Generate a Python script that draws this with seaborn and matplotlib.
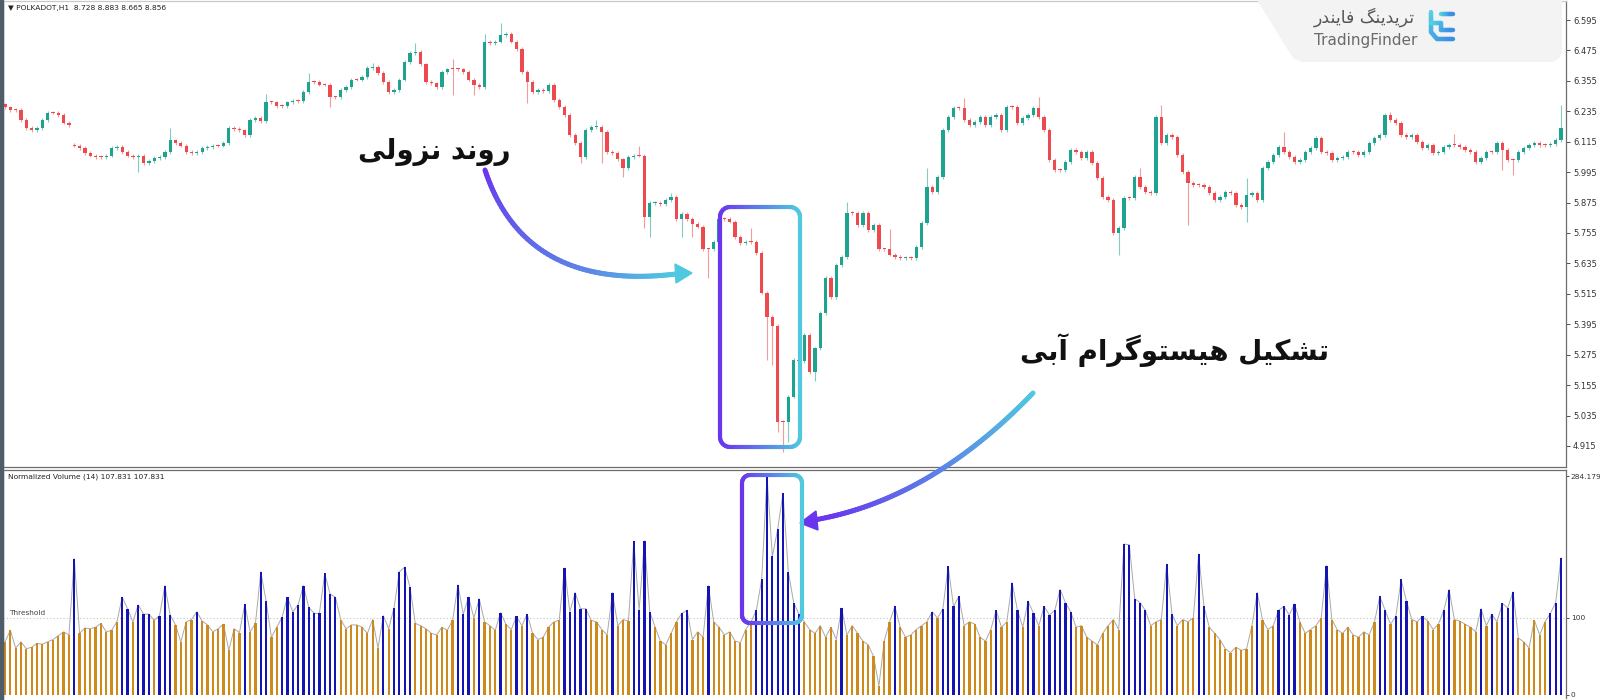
import numpy as np
import pandas as pd
import matplotlib
matplotlib.use("Agg")
import matplotlib.pyplot as plt
import seaborn as sns
from matplotlib.collections import LineCollection
from matplotlib.colors import LinearSegmentedColormap
from matplotlib.patches import Polygon

# ---------------------------------------------------------------- data
symbol_header = "\u25BC POLKADOT,H1  8.728 8.883 8.665 8.856"
indicator_header = "Normalized Volume (14) 107.831 107.831"

# H1 closes, one per candle
closes = [
    6.25, 6.24, 6.24, 6.20, 6.17, 6.16, 6.17, 6.20, 6.23, 6.23, 6.22, 6.19, 6.18,
    6.10, 6.09, 6.07, 6.06, 6.055, 6.055, 6.06, 6.09, 6.095, 6.075, 6.06, 6.055, 6.06,
    6.03, 6.04, 6.05, 6.055, 6.075,
    6.12, 6.11, 6.10, 6.075, 6.07, 6.075, 6.09, 6.095, 6.10, 6.10, 6.11,
    6.17, 6.165, 6.16, 6.14, 6.20, 6.21, 6.195,
    6.27, 6.27, 6.255, 6.255, 6.27, 6.275, 6.275,
    6.31, 6.35, 6.35, 6.34, 6.34, 6.29, 6.29, 6.32, 6.33, 6.36, 6.36, 6.37,
    6.405, 6.41, 6.385, 6.35, 6.31, 6.32, 6.36, 6.43, 6.465, 6.47, 6.42, 6.35, 6.345, 6.33,
    6.39, 6.40, 6.40, 6.40, 6.39, 6.36, 6.34, 6.33,
    6.51, 6.505, 6.51, 6.535, 6.54, 6.51, 6.48, 6.39,
    6.351, 6.311, 6.319, 6.315, 6.34, 6.28, 6.252, 6.22, 6.142, 6.11, 6.055, 6.161,
    6.173, 6.175, 6.153, 6.075, 6.071, 6.045, 6.011, 6.055, 6.06, 6.06,
    5.818, 5.873, 5.875, 5.87, 5.885, 5.897, 5.81, 5.83, 5.81, 5.79, 5.78, 5.69,
    5.69, 5.72, 5.81, 5.81, 5.80, 5.74, 5.715, 5.72, 5.72, 5.676,
    5.52, 5.424, 5.39, 5.01, 5.01, 5.11, 5.254, 5.25, 5.353, 5.207, 5.30, 5.44,
    5.578, 5.503, 5.629, 5.66,
    5.834, 5.834, 5.787, 5.834, 5.767, 5.787, 5.69, 5.69, 5.67, 5.66, 5.655,
    5.657, 5.657, 5.70, 5.795, 5.937, 5.917, 5.976, 6.161, 6.212, 6.248, 6.248,
    6.201, 6.181, 6.193, 6.213, 6.181, 6.213, 6.22, 6.161, 6.252, 6.252, 6.189,
    6.209, 6.22, 6.248, 6.213, 6.161, 6.043, 6.004, 6.004, 6.035, 6.082, 6.075,
    6.051, 6.075, 6.031, 5.972, 5.897, 5.885, 5.755, 5.775, 5.893, 5.893, 5.976,
    5.936, 5.917, 5.913, 6.213, 6.11, 6.142, 6.134, 6.063, 5.996, 5.952, 5.944,
    5.944, 5.936, 5.913, 5.885, 5.897, 5.917, 5.913, 5.865, 5.858, 5.905, 5.913,
    5.885, 6.011, 6.035, 6.063, 6.094, 6.075, 6.055, 6.035, 6.043, 6.075, 6.09,
    6.13, 6.075, 6.071, 6.043, 6.051, 6.055, 6.075, 6.075, 6.063, 6.075, 6.11,
    6.13, 6.142, 6.22, 6.201, 6.189, 6.142, 6.134, 6.142, 6.114, 6.09, 6.102,
    6.071, 6.075, 6.094, 6.102, 6.102, 6.094, 6.082, 6.075, 6.035, 6.051, 6.075,
    6.075, 6.11, 6.082, 6.043, 6.043, 6.075, 6.09, 6.102, 6.11, 6.102, 6.102,
    6.105, 6.122, 6.169,
]
gap_opens = {0: 6.262, 13: 6.104}
wick_highs = {31: 6.17, 49: 6.305, 57: 6.385, 69: 6.425, 77: 6.505, 84: 6.44,
              90: 6.54, 93: 6.585, 111: 6.20, 119: 6.10, 125: 5.913, 140: 5.775,
              158: 5.877, 166: 5.77, 173: 6.01, 180: 6.288, 194: 6.29, 213: 6.01,
              217: 6.26, 233: 5.972, 240: 6.154, 260: 6.232, 272: 6.146, 292: 6.26}
wick_lows = {25: 5.995, 61: 6.25, 84: 6.30, 88: 6.30, 98: 6.268, 108: 6.031,
             112: 6.031, 116: 5.975, 120: 5.775, 121: 5.74, 127: 5.74, 129: 5.74,
             132: 5.578, 143: 5.254, 144: 5.235, 145: 4.97, 146: 4.89, 147: 4.93,
             152: 5.17, 209: 5.668, 222: 5.787, 233: 5.80, 281: 6.004, 283: 5.984}

# Normalized Volume (14), one per candle
volumes = [
    69, 84, 61, 69, 60, 62, 67, 66, 69, 72, 77, 82, 78,
    177,
    80, 87, 86, 88, 93, 82, 84, 95,
    127, 112, 95, 117, 105, 105, 97, 103, 142, 104,
    91, 69, 95, 98, 108, 96, 91, 82, 86, 92, 58, 86, 81,
    118, 82, 93, 160, 122, 75, 88, 101, 127, 108, 117, 142, 114, 106, 106, 158,
    131, 127, 98, 86, 91, 91, 88, 80, 98, 61, 103, 86, 113, 160, 166, 140,
    93, 90, 86, 80, 78, 88, 84, 97,
    143, 105, 127, 100, 125, 95, 90, 84, 107, 92, 85, 102, 90, 105, 80, 72, 75, 88, 95, 97,
    165, 108, 133, 112, 112, 97, 95, 85, 78, 133, 90, 98, 96, 200, 110, 200, 108,
    88, 70, 65, 80, 95, 106, 110, 72, 82, 75, 142, 95, 88, 78, 82, 70, 68,
    85, 95, 110, 150, 284.179, 180, 215, 262, 160, 120, 105,
    95, 85, 80, 90, 75, 88, 72, 113, 78, 90, 80, 70, 65, 50, 12, 70, 95, 115, 88, 75, 78, 85, 90, 95,
    108, 100, 112, 167, 115, 128, 90, 95, 92, 75, 70, 85, 110, 88, 95, 146, 110, 88,
    122, 106, 90, 115, 104, 110, 137, 120, 108, 88, 90, 75, 70, 65, 80, 90, 98, 85,
    196, 195, 125, 120, 110, 90, 95, 98, 170, 105, 90, 98, 95, 100, 183, 115, 88, 80,
    72, 60, 55, 62, 58, 60,
    90, 133, 97, 85, 90, 110, 115, 104, 118, 95, 80, 85, 90, 100, 168, 98, 85, 80, 88,
    78, 75, 82, 78, 95, 128, 110, 92, 102, 150, 122, 98, 95, 102, 96, 85, 92, 110, 137,
    98, 96, 92, 88, 82, 112, 90, 105, 95,
    119, 113, 134, 74, 69, 61, 97, 78, 95, 106, 120, 178,
]
threshold = 100
price_ticks = [4.915, 5.035, 5.155, 5.275, 5.395, 5.515, 5.635, 5.755, 5.875,
               5.995, 6.115, 6.235, 6.355, 6.475, 6.595]
volume_ticks = [0, 100, 284.179]

label_trend = "روند نزولی"
label_hist = "تشکیل هیستوگرام آبی"
logo_fa = "تریدینگ فایندر"
logo_en = "TradingFinder"

BULL, BEAR = "#1fa38e", "#ec4a4f"
BLUE, ORANGE = "#1414b4", "#cf8a1d"
PURPLE, CYAN = "#6a35ee", "#50c8e0"

# -------------------------------------------------- persian shaping helper
FORMS = {  # isolated, final, initial, medial
    "ا": ("\uFE8D", "\uFE8E", None, None), "آ": ("\uFE81", "\uFE82", None, None),
    "ب": ("\uFE8F", "\uFE90", "\uFE91", "\uFE92"), "ت": ("\uFE95", "\uFE96", "\uFE97", "\uFE98"),
    "د": ("\uFEA9", "\uFEAA", None, None), "ر": ("\uFEAD", "\uFEAE", None, None),
    "ز": ("\uFEAF", "\uFEB0", None, None), "س": ("\uFEB1", "\uFEB2", "\uFEB3", "\uFEB4"),
    "ش": ("\uFEB5", "\uFEB6", "\uFEB7", "\uFEB8"), "ف": ("\uFED1", "\uFED2", "\uFED3", "\uFED4"),
    "ل": ("\uFEDD", "\uFEDE", "\uFEDF", "\uFEE0"), "م": ("\uFEE1", "\uFEE2", "\uFEE3", "\uFEE4"),
    "ن": ("\uFEE5", "\uFEE6", "\uFEE7", "\uFEE8"), "ه": ("\uFEE9", "\uFEEA", "\uFEEB", "\uFEEC"),
    "و": ("\uFEED", "\uFEEE", None, None), "ی": ("\uFBFC", "\uFBFD", "\uFBFE", "\uFBFF"),
    "ک": ("\uFB8E", "\uFB8F", "\uFB90", "\uFB91"), "گ": ("\uFB92", "\uFB93", "\uFB94", "\uFB95"),
}


def shape_fa(text):
    out = []
    for k, ch in enumerate(text):
        if ch not in FORMS:
            out.append(ch)
            continue
        prev = text[k - 1] if k > 0 else ""
        nxt = text[k + 1] if k < len(text) - 1 else ""
        join_prev = prev in FORMS and FORMS[prev][2] is not None
        join_next = nxt in FORMS and FORMS[ch][2] is not None
        iso, fin, ini, med = FORMS[ch]
        if join_prev and join_next:
            out.append(med)
        elif join_prev:
            out.append(fin)
        elif join_next:
            out.append(ini)
        else:
            out.append(iso)
    return "".join(reversed(out))


def gradient_line(ax, pts, c0, c1, lw, by_x=False):
    pts = np.asarray(pts, dtype=float)
    dense = [pts[0]]
    for a, b in zip(pts[:-1], pts[1:]):
        n = max(int(np.hypot(*(b - a)) / 2), 1)
        for s in np.linspace(0, 1, n + 1)[1:]:
            dense.append(a + (b - a) * s)
    dense = np.array(dense)
    segs = np.stack([dense[:-1], dense[1:]], axis=1)
    if by_x:
        mid = segs[:, :, 0].mean(axis=1)
        t = (mid - mid.min()) / (mid.max() - mid.min())
    else:
        t = np.linspace(0, 1, len(segs))
    cmap = LinearSegmentedColormap.from_list("grad", [c0, c1])
    ax.add_collection(LineCollection(segs, colors=cmap(t), linewidths=lw,
                                     capstyle="round", joinstyle="round"))


def rounded_rect(x0, y0, x1, y1, r):
    pts = []
    for cx, cy, a0 in [(x1 - r, y0 + r, -90), (x1 - r, y1 - r, 0),
                       (x0 + r, y1 - r, 90), (x0 + r, y0 + r, 180)]:
        ang = np.radians(np.linspace(a0, a0 + 90, 10))
        pts += list(zip(cx + r * np.cos(ang), cy + r * np.sin(ang)))
    pts.append(pts[0])
    return pts


def bezier(p0, p1, p2, n=60):
    t = np.linspace(0, 1, n)[:, None]
    p0, p1, p2 = map(np.array, (p0, p1, p2))
    return (1 - t) ** 2 * p0 + 2 * (1 - t) * t * p1 + t ** 2 * p2


# ---------------------------------------------------------------- figure
sns.set_style("white")
plt.rcParams["font.family"] = ["DejaVu Sans"]

fig = plt.figure(figsize=(16, 7), dpi=100)
ax_p = fig.add_axes([3 / 1600, (700 - 467) / 700, 1563 / 1600, 466 / 700])
ax_v = fig.add_axes([3 / 1600, 2 / 700, 1563 / 1600, 228 / 700])

n = len(closes)
idx = np.arange(n)
close = np.array(closes, dtype=float)
opn = np.r_[close[0], close[:-1]]
for k, v in gap_opens.items():
    opn[k] = v
top = np.maximum(opn, close)
bot = np.minimum(opn, close)
high = top + 0.007
low = bot - 0.007
for k, v in wick_highs.items():
    high[k] = v
for k, v in wick_lows.items():
    low[k] = v
up = close > opn
col = np.where(up, BULL, BEAR)

ax_p.vlines(idx, low, high, colors=col, linewidth=0.8, alpha=0.55, zorder=2)
ax_p.bar(idx, np.maximum(top - bot, 0.004), bottom=bot, width=0.62, color=col,
         linewidth=0, zorder=3)

ax_p.set_xlim(-0.375, n - 1 + 0.94)
ax_p.set_ylim(4.832, 6.670)
ax_p.yaxis.tick_right()
ax_p.set_yticks(price_ticks)
ax_p.set_yticklabels([f"{t:.3f}" for t in price_ticks])
ax_p.set_xticks([])
ax_p.tick_params(axis="y", labelsize=6, length=3, width=0.6, pad=2,
                 colors="#333333", right=True)
ax_p.text(0.003, 0.992, symbol_header, transform=ax_p.transAxes, fontsize=5.4,
          va="top", ha="left", color="#222222")

# volume pane
vol_df = pd.DataFrame({"bar": idx, "volume": volumes})
vol_df["side"] = np.where(vol_df["volume"] > threshold, "above", "below")
sns.lineplot(data=vol_df, x="bar", y="volume", color="#a9a9a9", linewidth=0.7,
             ax=ax_v, zorder=1)
sns.barplot(data=vol_df, x="bar", y="volume", hue="side",
            palette={"above": BLUE, "below": ORANGE}, native_scale=True,
            width=0.42, dodge=False, errorbar=None, saturation=1, linewidth=0,
            legend=False, ax=ax_v, zorder=2)
ax_v.axhline(threshold, color="#c4c4c4", linewidth=0.8, linestyle=(0, (1, 2)), zorder=0)
ax_v.text(0.8, threshold + 3, "Threshold", fontsize=5.3, color="#444444",
          ha="left", va="bottom")
ax_v.set_xlim(-0.375, n - 1 + 0.94)
ax_v.set_ylim(-3.9, 292.2)
ax_v.yaxis.tick_right()
ax_v.set_yticks(volume_ticks)
ax_v.set_yticklabels(["0", "100", "284.179"])
ax_v.set_xticks([])
ax_v.set_xlabel("")
ax_v.set_ylabel("")
ax_v.tick_params(axis="y", labelsize=5.3, length=2, width=0.6, pad=1.5,
                 colors="#333333", right=True)
ax_v.text(0.003, 0.985, indicator_header, transform=ax_v.transAxes, fontsize=5.4,
          va="top", ha="left", color="#222222")

for ax in (ax_p, ax_v):
    for s in ax.spines.values():
        s.set_color("#6d6d6d")
        s.set_linewidth(0.9)
ax_p.spines["top"].set_color("#c9c9c9")
ax_v.spines["bottom"].set_visible(False)

# ------------------------------------------------------------- overlay
ov = fig.add_axes([0, 0, 1, 1], zorder=10)
ov.set_xlim(0, 1600)
ov.set_ylim(700, 0)
ov.axis("off")
ov.patch.set_alpha(0)

ov.add_patch(Polygon([(0, 0), (3, 0), (3, 700), (0, 700)], color="#4f5c6a"))

# logo panel
logo = [(1257, 0), (1562, 0), (1562, 50)]
ang = np.radians(np.linspace(0, 90, 8))
logo += list(zip(1550 + 12 * np.cos(ang), 50 + 12 * np.sin(ang)))
logo += [(1302, 62), (1293, 58), (1288, 50)]
ov.add_patch(Polygon(logo, closed=True, facecolor="#f3f3f3", edgecolor="none"))
ov.text(1314, 17, shape_fa(logo_fa), fontsize=12.5, color="#555555", ha="left",
        va="center")
ov.text(1314, 41, logo_en, fontsize=11, color="#6a6a6a", ha="left",
        va="center")
gradient_line(ov, [(1431, 12), (1431, 32), (1437, 39), (1453, 39)],
              "#56d2e6", "#3c8fe2", 3.2)
gradient_line(ov, [(1431, 23), (1441, 23), (1441, 30), (1453, 30)],
              "#56d2e6", "#3c8fe2", 3.2)
gradient_line(ov, [(1441, 14), (1453, 14)], "#56d2e6", "#3c8fe2", 3.2)

# highlight boxes
gradient_line(ov, rounded_rect(720, 207, 800, 447, 10), PURPLE, CYAN, 3, by_x=True)
gradient_line(ov, rounded_rect(742, 475, 802, 623, 8), PURPLE, CYAN, 3, by_x=True)

# arrows
gradient_line(ov, bezier((485, 170), (525, 292), (676, 274)), PURPLE, CYAN, 3.6)
ov.add_patch(Polygon([(692, 273), (675, 264), (676, 283)], color=CYAN))
gradient_line(ov, bezier((1033, 393), (930, 500), (814, 520)), CYAN, PURPLE, 3.6)
ov.add_patch(Polygon([(800, 523), (816, 511), (818, 530)], color=PURPLE))

ov.text(434, 152, shape_fa(label_trend), fontsize=20, fontweight="bold",
        color="#111111", ha="center", va="center")
ov.text(1174, 350, shape_fa(label_hist), fontsize=20, fontweight="bold",
        color="#111111", ha="center", va="center")

fig.savefig("out.png", dpi=100)
